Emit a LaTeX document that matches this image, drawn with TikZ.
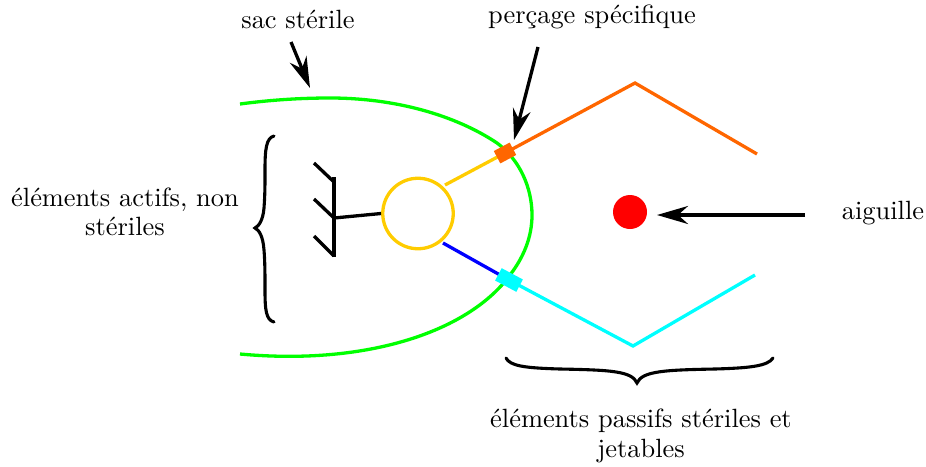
\documentclass[tikz,border=0pt]{standalone}
\usetikzlibrary{arrows.meta}
\definecolor{ringc}{RGB}{255,204,0}
\definecolor{orangec}{RGB}{255,102,0}
\definecolor{cyanc}{RGB}{0,255,255}
\definecolor{greenc}{RGB}{0,255,0}
\definecolor{bluec}{RGB}{0,0,255}
\definecolor{redc}{RGB}{255,0,0}
\tikzset{
  wire/.style={line width=3.3pt,line join=miter},
  pointer/.style={line width=3.3pt,-{Stealth[length=31pt,width=18pt,inset=10pt]}},
  lab/.style={inner sep=0pt,scale=2.64,font=\fontsize{10}{11.2}\selectfont,align=center},
  curly/.style={line width=3.1pt,line cap=round}
}
\begin{document}
\begin{tikzpicture}[x=1pt,y=-1pt]
\useasboundingbox (0,0) rectangle (926,466);
\coordinate (sacA) at (240,104);
\coordinate (sacB) at (240,354);
\draw[wire,greenc] (sacA) .. controls (270,100) and (300,98) .. (330,98) .. controls (395,98) and (455,115) .. (497,143) .. controls (520,160) and (532,188) .. (532,215) .. controls (532,238) and (523,258) .. (510,275) .. controls (470,330) and (370,366) .. (sacB);
\node[circle,draw=ringc,line width=3.3pt,minimum size=70.5pt,inner sep=0pt] (sensor) at (418,213.5) {};
\coordinate (orT) at (505,153);
\coordinate (orP) at (635,83);
\coordinate (orE) at (757,154);
\coordinate (cyB) at (509,280);
\coordinate (cyP) at (633,346);
\coordinate (cyE) at (755,275);
\coordinate (ringT) at (445,185);
\coordinate (ringB) at (443,243);
\draw[wire,ringc] (ringT) -- (orT);
\draw[wire,orangec] (orT) -- (orP) -- (orE);
\draw[wire,bluec] (ringB) -- (cyB);
\draw[wire,cyanc] (cyB) -- (cyP) -- (cyE);
\node[fill=orangec,minimum width=18pt,minimum height=14pt,inner sep=0pt,rotate=28] (sqO) at (orT) {};
\node[fill=cyanc,minimum width=24pt,minimum height=14pt,inner sep=0pt,rotate=-28] (sqC) at (cyB) {};
\node[circle,fill=redc,minimum size=34pt,inner sep=0pt] (needle) at (630,212) {};
\draw[wire] (334,177) -- (334,257);
\draw[wire] (314,163) -- (334,182);
\draw[wire] (314,199) -- (334,218);
\draw[wire] (314,236) -- (334,256);
\coordinate (hub) at (334,218);
\draw[wire] (hub) -- (sensor.west);
\draw[curly] (274,136) .. controls (266,138) and (265,150) .. (265,170) .. controls (265,185) and (265,195) .. (264,208) .. controls (263,220) and (259,226) .. (255,228) .. controls (259,230) and (263,236) .. (264,250) .. controls (265,262) and (265,275) .. (265,290) .. controls (265,310) and (266,320) .. (274,322);
\draw[curly] (506,358) .. controls (510,366) and (525,368) .. (560,369) .. controls (610,370) and (632,371) .. (637,383) .. controls (642,371) and (665,370) .. (715,369) .. controls (750,368) and (768,366) .. (773,358);
\node[lab] (l1) at (298,19) {sac stérile};
\node[lab] (l2) at (592,17) {perçage spécifique};
\node[lab] (l3) at (125,212) {éléments actifs, non\\stériles};
\node[lab] (l4) at (883,213) {aiguille};
\node[lab] (l5) at (641,436) {éléments passifs stériles et\\jetables};
\coordinate (a1) at (291,42);
\coordinate (a1e) at (310,88);
\coordinate (a2) at (538,47);
\coordinate (a2e) at (514,140);
\coordinate (a3) at (805,215);
\coordinate (a3e) at (657,215);
\draw[pointer] (a1) -- (a1e);
\draw[pointer] (a2) -- (a2e);
\draw[pointer] (a3) -- (a3e);
\end{tikzpicture}
\end{document}
